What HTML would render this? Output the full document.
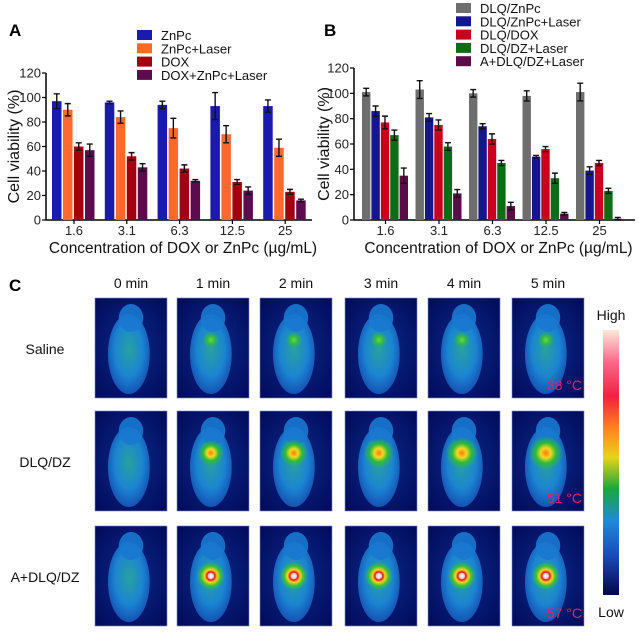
<!DOCTYPE html>
<html><head><meta charset="utf-8"><style>
body{margin:0;background:#fff;}
svg{display:block;font-family:"Liberation Sans",Arial,sans-serif;}
</style></head><body>
<svg id="fig" width="639" height="633" viewBox="0 0 639 633">
<defs>
<linearGradient id="cbar" x1="0" y1="0" x2="0" y2="1">
<stop offset="0" stop-color="#fde8d8"/><stop offset="0.12" stop-color="#f96a8a"/><stop offset="0.25" stop-color="#f2203e"/><stop offset="0.38" stop-color="#ff8a1e"/><stop offset="0.48" stop-color="#e9d21a"/><stop offset="0.6" stop-color="#18a83a"/><stop offset="0.72" stop-color="#1e8ad8"/><stop offset="0.85" stop-color="#1a4cb8"/><stop offset="1" stop-color="#02084a"/>
</linearGradient>
<radialGradient id="body" cx="0.5" cy="0.45" r="0.55"><stop offset="0" stop-color="#2aa8a0"/><stop offset="0.6" stop-color="#1c8ad6"/><stop offset="1" stop-color="#1656b8"/></radialGradient>
<radialGradient id="bg" cx="0.5" cy="0.5" r="0.7"><stop offset="0" stop-color="#0a2a8a"/><stop offset="1" stop-color="#020a5a"/></radialGradient>
<radialGradient id="spot0"><stop offset="0" stop-color="#6fd83a"/><stop offset="0.5" stop-color="#2fb84a"/><stop offset="1" stop-color="#2fb84a" stop-opacity="0"/></radialGradient>
<radialGradient id="spot1"><stop offset="0" stop-color="#ff7a10"/><stop offset="0.3" stop-color="#f2d820"/><stop offset="0.6" stop-color="#2cba3a"/><stop offset="1" stop-color="#2cba3a" stop-opacity="0"/></radialGradient>
<radialGradient id="spot2"><stop offset="0" stop-color="#ffffff"/><stop offset="0.18" stop-color="#ffd0d0"/><stop offset="0.28" stop-color="#e8102a"/><stop offset="0.45" stop-color="#ffd21a"/><stop offset="0.7" stop-color="#3ac03a"/><stop offset="1" stop-color="#3ac03a" stop-opacity="0"/></radialGradient>
</defs>
<g id="panelA"></g>
<g id="panelB"></g>
<g id="panelC"></g>
</svg>
<script>
const NS="http://www.w3.org/2000/svg";
const categories=["1.6","3.1","6.3","12.5","25"];
const yTicks=[0,20,40,60,80,100,120];
const seriesA=["ZnPc","ZnPc+Laser","DOX","DOX+ZnPc+Laser"];
const a_znpc=[97,96,94,93,93];
const a_znpc_err=[6,1,3,11,5];
const a_znpcL=[90,84,75,70,59];
const a_znpcL_err=[5,5,8,7,7];
const a_dox=[60,52,42,31,23];
const a_dox_err=[3,3,3,2,2];
const a_all=[57,43,32,24,16];
const a_all_err=[5,3,1,3,1];
const seriesB=["DLQ/ZnPc","DLQ/ZnPc+Laser","DLQ/DOX","DLQ/DZ+Laser","A+DLQ/DZ+Laser"];
const b_znpc=[101,103,100,98,101];
const b_znpc_err=[3,7,3,4,7];
const b_znpcL=[86,81,74,50,39];
const b_znpcL_err=[4,3,2,1,3];
const b_dox=[77,75,64,56,45];
const b_dox_err=[5,4,4,2,2];
const b_dzL=[67,58,45,33,23];
const b_dzL_err=[4,3,2,4,2];
const b_adz=[35,21,11,5,1];
const b_adz_err=[6,3,3,1,1];
const times=["0 min","1 min","2 min","3 min","4 min","5 min"];
const groups=["Saline","DLQ/DZ","A+DLQ/DZ"];
const temps=["38 °C","51 °C","57 °C"];

function el(tag,attrs,parent,text){const e=document.createElementNS(NS,tag);for(const k in attrs)e.setAttribute(k,attrs[k]);if(text!==undefined)e.textContent=text;parent.appendChild(e);return e;}

function drawChart(g,o){
  const y=v=>o.y0-(v/120)*(o.y0-o.y120);
  const ax=el("g",{},g);
  el("line",{x1:o.ax,y1:o.y120,x2:o.ax,y2:o.y0,stroke:"#000","stroke-width":1.5},ax);
  const xa=el("line",{x1:o.ax,y1:o.y0,x2:o.xEnd,y2:o.y0,stroke:"#000","stroke-width":1.5},g);
  
  yTicks.forEach(t=>{el("line",{x1:o.ax-4,y1:y(t),x2:o.ax,y2:y(t),stroke:"#000","stroke-width":1.2},ax);
    const tl=el("text",{x:o.ax-5,y:y(t)+4.5,"text-anchor":"end","font-size":13,fill:"#222"},ax,String(t));
    });
  categories.forEach((c,i)=>{const cx=o.g0+i*o.gs+o.nb*o.step/2;
    el("line",{x1:cx,y1:o.y0,x2:cx,y2:o.y0+4,stroke:"#000","stroke-width":1.2},g);
    const t=el("text",{x:cx,y:o.y0+15,"text-anchor":"middle","font-size":13,fill:"#222"},g,c);
    
    o.series.forEach((s,j)=>{const v=s.v[i],e=s.e[i];const bx=o.g0+i*o.gs+j*o.step;
      const r=el("rect",{x:bx,y:y(v),width:o.bw,height:o.y0-y(v),fill:s.c},g);
      
      
      const mx=bx+o.bw/2;
      const eb=el("path",{d:`M${mx},${y(v+e)}V${y(v-e)}M${mx-3},${y(v+e)}H${mx+3}M${mx-3},${y(v-e)}H${mx+3}`,stroke:"#111","stroke-width":1.4,fill:"none"},g);
      
    });});
  const xt=el("text",{x:(o.ax+o.xEnd)/2+4,y:o.y0+33,"text-anchor":"middle","font-size":15.5,fill:"#111"},g,"Concentration of DOX or ZnPc (µg/mL)");
  
  const yt=el("text",{x:0,y:0,"text-anchor":"middle","font-size":16,fill:"#111",transform:`translate(${o.ytx},${(o.y0+o.y120)/2}) rotate(-90)`},g,"Cell viability (%)");
  
  o.series.forEach((s,j)=>{const ly=o.ly+j*o.lstep;
    const le=el("g",{},g);
    el("rect",{x:o.lx,y:ly-5,width:15,height:10,fill:s.c},le);
    el("text",{x:o.lx+24,y:ly+5,"font-size":13,fill:"#111"},le,s.n);});
  const pl=el("text",{x:o.px,y:o.py,"font-size":17,"font-weight":"bold"},g,o.pl);
  
}
drawChart(document.getElementById("panelA"),{y0:220,y120:73,ax:46,xEnd:312,g0:52,gs:52.8,step:11,bw:9.5,nb:4,ytx:19,lx:137,ly:35,lstep:13.3,px:9,py:36,pl:"A",
 series:[{n:seriesA[0],v:a_znpc,e:a_znpc_err,c:"#1a1aae"},{n:seriesA[1],v:a_znpcL,e:a_znpcL_err,c:"#ff6a2c"},{n:seriesA[2],v:a_dox,e:a_dox_err,c:"#a3000f"},{n:seriesA[3],v:a_all,e:a_all_err,c:"#5c0b4c"}]});
drawChart(document.getElementById("panelB"),{y0:220,y120:68,ax:354,xEnd:635,g0:362,gs:53.5,step:9.4,bw:8.4,nb:5,ytx:329,lx:456,ly:8,lstep:13.3,px:324,py:36,pl:"B",
 series:[{n:seriesB[0],v:b_znpc,e:b_znpc_err,c:"#6e6e6e"},{n:seriesB[1],v:b_znpcL,e:b_znpcL_err,c:"#15158e"},{n:seriesB[2],v:b_dox,e:b_dox_err,c:"#c8001e"},{n:seriesB[3],v:b_dzL,e:b_dzL_err,c:"#0d6d16"},{n:seriesB[4],v:b_adz,e:b_adz_err,c:"#5a0b48"}]});

// Panel C
const C=document.getElementById("panelC");
const pc=el("text",{x:9,y:291,"font-size":17,"font-weight":"bold"},C,"C");

const colX=[95,177,260,345,428,512],rowY=[298,411,526],W=72,H=100;
times.forEach((t,i)=>{const e=el("text",{x:colX[i]+W/2,y:288,"text-anchor":"middle","font-size":14,fill:"#111"},C,t);
 });
groups.forEach((gname,r)=>{
 const e=el("text",{x:45,y:rowY[r]+H/2+6,"text-anchor":"middle","font-size":14,fill:"#111"},C,gname);
 
 times.forEach((t,c)=>{const x=colX[c],y=rowY[r];
  const im=el("g",{},C);
  el("rect",{x:x,y:y,width:W,height:H,fill:"url(#bg)",stroke:"#7a86c8","stroke-width":0.6},im);
  el("ellipse",{cx:x+W*0.47,cy:y+H*0.56,rx:W*0.29,ry:H*0.4,fill:"url(#body)",opacity:0.95},im);
  el("ellipse",{cx:x+W*0.5,cy:y+H*0.2,rx:W*0.17,ry:H*0.14,fill:"#1a78d0",opacity:0.9},im);
  if(c>0){const rad=[8,12+c,14][r];
   el("circle",{cx:x+W*0.47,cy:y+H*(r==2?0.5:0.42),r:rad,fill:"url(#spot"+r+")"},im);}
 });
 const tt=el("text",{x:colX[5]+W-2,y:rowY[r]+H-8,"text-anchor":"end","font-size":14,fill:"#e0206a"},C,temps[r]);
 
});
const cb=el("rect",{x:603,y:330,width:16,height:265,fill:"url(#cbar)"},C);

const hi=el("text",{x:611,y:320,"text-anchor":"middle","font-size":14,fill:"#111"},C,"High");

const lo=el("text",{x:611,y:617,"text-anchor":"middle","font-size":14,fill:"#111"},C,"Low");

</script>
</body></html>
